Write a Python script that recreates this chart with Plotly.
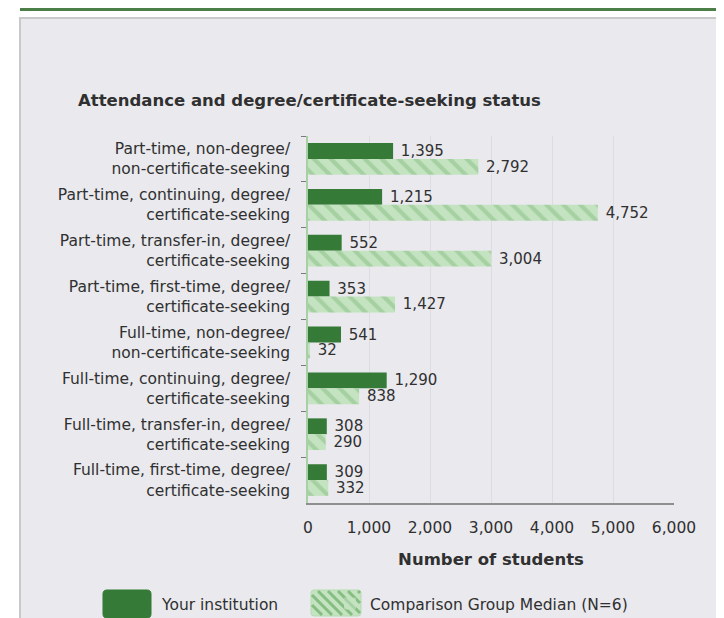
import plotly.graph_objects as go

categories = [
    "Part-time, non-degree/<br>non-certificate-seeking",
    "Part-time, continuing, degree/<br>certificate-seeking",
    "Part-time, transfer-in, degree/<br>certificate-seeking",
    "Part-time, first-time, degree/<br>certificate-seeking",
    "Full-time, non-degree/<br>non-certificate-seeking",
    "Full-time, continuing, degree/<br>certificate-seeking",
    "Full-time, transfer-in, degree/<br>certificate-seeking",
    "Full-time, first-time, degree/<br>certificate-seeking",
]
your_institution = [1395, 1215, 552, 353, 541, 1290, 308, 309]
comparison_median = [2792, 4752, 3004, 1427, 32, 838, 290, 332]
x_ticks = [0, 1000, 2000, 3000, 4000, 5000, 6000]

series_names = ["Your institution", "Comparison Group Median (N=6)"]
chart_title = "Attendance and degree/certificate-seeking status"
x_title = "Number of students"

FONT = "DejaVu Sans"
TXT = "#303030"
DARK = "#357b37"
LIGHT_BG = "#c4e3c0"
LIGHT_FG = "#86bd82"

# pixel layout helpers (plot area 300..666 x, 128..495 y)
L, R, T, B = 300, 666, 128, 495
W, H = R - L, B - T
def X(px):
    return (px - L) / W
def Y(py):
    return (B - py) / H

fig = go.Figure()
fig.add_trace(go.Bar(
    name=series_names[0], y=categories, x=your_institution, orientation="h",
    marker=dict(color=DARK, line=dict(width=0)),
    texttemplate="\u00a0%{x:,}", textposition="outside",
    outsidetextfont=dict(family=FONT, size=15, color=TXT),
    constraintext="none", cliponaxis=False, legendwidth=163,
))
fig.add_trace(go.Bar(
    name=series_names[1], y=categories, x=comparison_median, orientation="h",
    marker=dict(color=LIGHT_BG, line=dict(width=0),
                pattern=dict(shape="\\", fillmode="overlay", bgcolor=LIGHT_BG,
                             fgcolor=LIGHT_FG, size=12, solidity=0.35)),
    texttemplate="\u00a0%{x:,}", textposition="outside",
    outsidetextfont=dict(family=FONT, size=15, color=TXT),
    constraintext="none", cliponaxis=False,
))


def rounded_rect(x0, y0, x1, y1, r):
    # pixel coords -> paper path with rounded corners
    pts = []
    def P(px, py):
        return f"{X(px):.5f},{Y(py):.5f}"
    return (f"M{P(x0 + r, y0)} L{P(x1 - r, y0)} Q{P(x1, y0)} {P(x1, y0 + r)} "
            f"L{P(x1, y1 - r)} Q{P(x1, y1)} {P(x1 - r, y1)} L{P(x0 + r, y1)} "
            f"Q{P(x0, y1)} {P(x0, y1 - r)} L{P(x0, y0 + r)} Q{P(x0, y0)} {P(x0 + r, y0)} Z")


def hatch_lines(x0, y0, x1, y1, step):
    segs = []
    c = x0 - y1
    while c <= x1 - y0:
        ya = max(y0, x0 - c)
        yb = min(y1, x1 - c)
        if yb > ya:
            segs.append(f"M{X(ya + c):.5f},{Y(ya):.5f} L{X(yb + c):.5f},{Y(yb):.5f}")
        c += step
    return " ".join(segs)


shapes = [
    # page panel
    dict(type="rect", xref="paper", yref="paper", x0=X(12), x1=X(722), y0=Y(640), y1=Y(10),
         fillcolor="#e9e9ee", line=dict(color="#c9c9cc", width=2), layer="below"),
    # top green rule
    dict(type="rect", xref="paper", yref="paper", x0=X(12), x1=X(719), y0=Y(3), y1=Y(-3),
         fillcolor="#4b7f47", line=dict(width=0), layer="below"),
    # legend swatches (enlarged)
    dict(type="path", xref="paper", yref="paper", path=rounded_rect(95, 582, 143, 610, 4),
         fillcolor=DARK, line=dict(color=DARK, width=1), layer="above"),
    dict(type="path", xref="paper", yref="paper", path=rounded_rect(303, 582, 353, 608, 3),
         fillcolor=LIGHT_BG, line=dict(color="#b6dcb1", width=1), layer="above"),
    dict(type="path", xref="paper", yref="paper", path=hatch_lines(304, 583, 352, 607, 10),
         line=dict(color=LIGHT_FG, width=3), layer="above"),
]

fig.update_layout(
    width=724, height=618,
    margin=dict(l=L, r=724 - R, t=T, b=618 - B, autoexpand=False),
    paper_bgcolor="white",
    plot_bgcolor="#f5f5f6",
    barmode="group", bargap=0.31, bargroupgap=0,
    font=dict(family=FONT, size=15.5, color=TXT),
    shapes=shapes,
    showlegend=True,
    legend=dict(orientation="h", x=X(114), y=Y(596), xanchor="left", yanchor="middle",
                font=dict(family=FONT, size=15.5, color=TXT),
                bgcolor="rgba(0,0,0,0)", traceorder="normal"),
    annotations=[dict(text=chart_title, xref="paper", yref="paper", x=X(68), y=Y(92),
                      xanchor="left", yanchor="middle", showarrow=False,
                      font=dict(family=FONT, size=16.5, color=TXT, weight="bold"))],
)
fig.update_xaxes(
    range=[0, 6000], tickvals=x_ticks, tickformat=",", showgrid=True,
    gridcolor="#dcdce1", gridwidth=1, zeroline=False,
    showline=True, linecolor="#8f8f8f", linewidth=1.5,
    ticks="", ticklabelstandoff=10,
    tickfont=dict(family=FONT, size=15.5, color=TXT),
    title=dict(text=x_title, standoff=17,
               font=dict(family=FONT, size=16.5, color=TXT, weight="bold")),
    automargin=False, fixedrange=True,
)
fig.update_yaxes(
    autorange="reversed", type="category", showgrid=False,
    showline=True, linecolor="#a9cfa6", linewidth=1.5,
    ticks="outside", ticklen=5, tickcolor="#7a7a7a", tickson="boundaries",
    ticklabelstandoff=13,
    tickfont=dict(family=FONT, size=15.5, color=TXT),
    automargin=False, fixedrange=True,
)

fig.write_html("out.html")
